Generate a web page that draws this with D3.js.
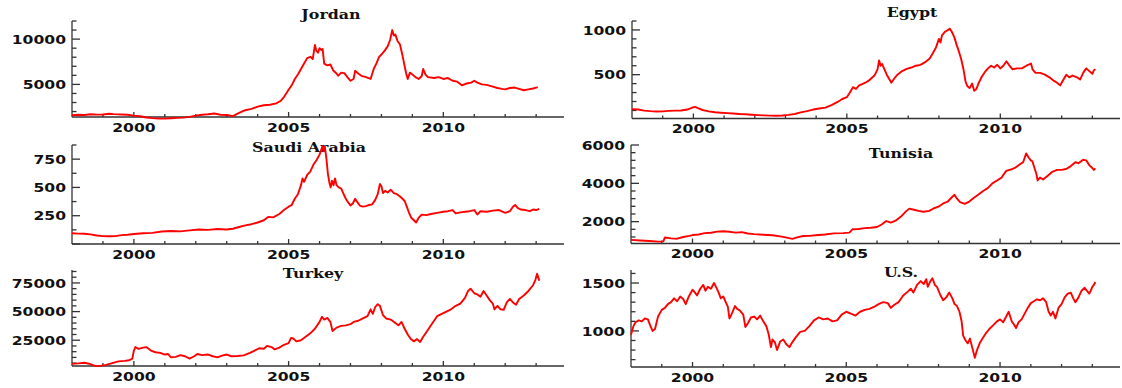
<!DOCTYPE html>
<html lang="en">
<head>
<meta charset="utf-8">
<title>Stock indices</title>
<style>
  * { margin: 0; padding: 0; }
  body { background: #fff; }
  svg { display: block; }
  .tick-label { font-family: "DejaVu Sans", sans-serif; font-weight: bold; font-size: 13px; fill: #111; }
  .title { font-family: "DejaVu Serif", serif; font-weight: bold; font-size: 12px; fill: #111; }
  .axis-line { stroke: #333; stroke-width: 1.3; fill: none; }
  .series { stroke: #ff0000; stroke-width: 1.9; fill: none; stroke-linejoin: round; }
</style>
</head>
<body>
<svg id="chart" width="1122" height="388"></svg>
<script src="https://d3js.org/d3.v7.min.js"></script>
<script>
// values: [year, index level]
const jordan = [
  [1998.0,1600],[1998.2,1650],[1998.4,1620],[1998.6,1700],[1998.8,1660],[1999.0,1680],[1999.2,1760],[1999.35,1720],
  [1999.6,1680],[1999.8,1650],[2000.0,1550],[2000.2,1480],[2000.4,1350],[2000.6,1280],[2000.8,1230],[2001.0,1220],
  [2001.2,1260],[2001.4,1300],[2001.6,1330],[2001.8,1420],[2002.0,1550],[2002.2,1650],[2002.4,1700],[2002.6,1780],
  [2002.8,1650],[2003.0,1620],[2003.2,1500],[2003.4,1850],[2003.6,2150],[2003.8,2300],[2004.0,2550],[2004.2,2700],
  [2004.4,2750],[2004.6,2900],[2004.75,3200],[2004.85,3600],[2005.0,4400],[2005.1,4900],[2005.2,5600],[2005.3,6100],
  [2005.4,6700],[2005.5,7300],[2005.6,7900],[2005.7,8050],[2005.78,7800],[2005.85,9350],[2005.9,8700],[2005.95,8500],
  [2006.0,9000],[2006.05,8800],[2006.1,8900],[2006.15,7300],[2006.25,7100],[2006.35,7200],[2006.45,6500],[2006.55,6200],
  [2006.6,5950],[2006.7,6300],[2006.8,6250],[2006.9,5800],[2007.0,5400],[2007.1,5600],[2007.15,6500],[2007.25,6200],
  [2007.35,5950],[2007.5,5800],[2007.65,5600],[2007.75,6700],[2007.85,7400],[2007.92,8000],[2008.0,8300],[2008.1,8700],
  [2008.2,9200],[2008.28,9900],[2008.35,11000],[2008.4,10400],[2008.45,10500],[2008.52,9800],[2008.6,9400],[2008.68,8200],
  [2008.75,7000],[2008.8,6200],[2008.85,5600],[2008.92,6300],[2009.0,6100],[2009.1,5800],[2009.2,5600],[2009.3,5900],
  [2009.35,6700],[2009.42,6100],[2009.5,5800],[2009.7,5700],[2009.85,5800],[2010.0,5600],[2010.15,5700],[2010.3,5400],
  [2010.45,5300],[2010.6,4900],[2010.75,5100],[2010.9,5200],[2011.0,5400],[2011.1,5200],[2011.25,5000],[2011.4,4950],
  [2011.6,4750],[2011.75,4600],[2011.9,4500],[2012.0,4450],[2012.15,4600],[2012.3,4650],[2012.45,4500],[2012.6,4350],
  [2012.75,4450],[2012.9,4550],[2013.0,4650],[2013.05,4700]
];

const egypt = [
  [1998.0,115],[1998.2,110],[1998.4,98],[1998.6,92],[1998.8,88],[1999.0,90],[1999.2,95],[1999.4,98],[1999.6,100],
  [1999.8,110],[1999.95,130],[2000.05,140],[2000.15,125],[2000.3,105],[2000.5,90],[2000.7,80],[2000.9,75],[2001.1,70],
  [2001.3,66],[2001.5,60],[2001.7,57],[2001.9,52],[2002.1,48],[2002.3,45],[2002.5,42],[2002.7,40],[2002.9,43],
  [2003.1,50],[2003.3,60],[2003.5,78],[2003.7,92],[2003.9,110],[2004.1,122],[2004.3,132],[2004.5,160],[2004.7,195],
  [2004.85,228],[2005.0,248],[2005.1,300],[2005.2,360],[2005.3,340],[2005.4,380],[2005.5,395],[2005.6,410],[2005.7,430],
  [2005.8,460],[2005.9,490],[2006.0,560],[2006.05,660],[2006.1,600],[2006.15,620],[2006.2,580],[2006.3,500],[2006.4,440],
  [2006.45,410],[2006.55,460],[2006.65,500],[2006.8,540],[2006.95,565],[2007.1,580],[2007.25,600],[2007.4,610],
  [2007.55,640],[2007.7,680],[2007.8,740],[2007.9,800],[2008.0,900],[2008.05,860],[2008.1,940],[2008.2,980],
  [2008.3,1000],[2008.35,1015],[2008.42,980],[2008.5,920],[2008.58,830],[2008.65,760],[2008.72,680],[2008.8,560],
  [2008.87,420],[2008.93,370],[2009.0,350],[2009.08,400],[2009.15,320],[2009.22,340],[2009.3,410],[2009.4,480],
  [2009.5,530],[2009.6,570],[2009.7,600],[2009.8,580],[2009.9,610],[2010.0,570],[2010.1,600],[2010.2,650],
  [2010.3,600],[2010.4,560],[2010.55,570],[2010.7,570],[2010.85,600],[2011.0,625],[2011.05,560],[2011.15,520],
  [2011.3,520],[2011.45,500],[2011.6,470],[2011.75,430],[2011.85,410],[2011.95,380],[2012.05,440],[2012.15,500],
  [2012.25,470],[2012.35,490],[2012.5,470],[2012.6,445],[2012.7,520],[2012.8,570],[2012.9,540],[2013.0,510],
  [2013.05,550],[2013.1,560]
];

const saudi = [
  [1998.0,95],[1998.2,92],[1998.4,90],[1998.6,85],[1998.8,75],[1999.0,70],[1999.2,68],[1999.4,70],[1999.6,78],
  [1999.8,82],[2000.0,88],[2000.3,95],[2000.6,98],[2000.9,110],[2001.2,115],[2001.5,112],[2001.8,120],[2002.1,128],
  [2002.4,125],[2002.7,132],[2003.0,128],[2003.2,135],[2003.4,150],[2003.6,165],[2003.8,175],[2004.0,190],
  [2004.2,210],[2004.35,240],[2004.5,235],[2004.7,265],[2004.85,300],[2005.0,330],[2005.1,345],[2005.2,400],
  [2005.3,440],[2005.4,520],[2005.45,580],[2005.5,550],[2005.6,610],[2005.7,640],[2005.8,700],[2005.9,740],
  [2006.0,790],[2006.05,830],[2006.1,865],[2006.13,820],[2006.17,860],[2006.22,760],[2006.27,620],[2006.32,540],
  [2006.36,500],[2006.4,560],[2006.45,520],[2006.5,580],[2006.55,520],[2006.62,500],[2006.7,490],[2006.78,440],
  [2006.85,400],[2006.92,370],[2007.0,340],[2007.08,360],[2007.15,400],[2007.22,370],[2007.3,340],[2007.4,330],
  [2007.5,335],[2007.6,345],[2007.7,350],[2007.8,390],[2007.88,440],[2007.95,530],[2008.0,510],[2008.05,450],
  [2008.12,470],[2008.2,455],[2008.3,480],[2008.4,450],[2008.5,440],[2008.6,420],[2008.68,400],[2008.75,380],
  [2008.82,330],[2008.9,270],[2008.97,230],[2009.05,210],[2009.12,190],[2009.2,230],[2009.3,260],[2009.45,255],
  [2009.6,265],[2009.8,275],[2010.0,285],[2010.15,290],[2010.3,300],[2010.4,270],[2010.55,280],[2010.7,285],
  [2010.85,290],[2011.0,300],[2011.1,260],[2011.2,290],[2011.4,285],[2011.6,295],[2011.8,300],[2012.0,275],
  [2012.15,290],[2012.25,330],[2012.32,345],[2012.4,320],[2012.5,305],[2012.65,300],[2012.8,290],[2012.9,305],
  [2013.0,300],[2013.1,310]
];

const tunisia = [
  [1998.0,1050],[1998.3,1020],[1998.6,990],[1998.9,960],[1999.05,970],[1999.1,1170],[1999.3,1130],[1999.5,1110],
  [1999.7,1200],[1999.9,1260],[2000.0,1300],[2000.2,1330],[2000.4,1400],[2000.6,1420],[2000.8,1480],[2001.0,1500],
  [2001.2,1470],[2001.4,1430],[2001.6,1450],[2001.8,1380],[2002.0,1350],[2002.3,1320],[2002.6,1290],[2002.9,1220],
  [2003.1,1150],[2003.25,1100],[2003.4,1180],[2003.6,1250],[2003.8,1260],[2004.0,1290],[2004.3,1330],[2004.6,1390],
  [2004.9,1400],[2005.1,1430],[2005.2,1600],[2005.4,1620],[2005.6,1660],[2005.8,1680],[2006.0,1720],[2006.15,1850],
  [2006.3,2030],[2006.45,1950],[2006.6,2050],[2006.8,2300],[2006.95,2550],[2007.05,2680],[2007.2,2620],[2007.35,2560],
  [2007.5,2520],[2007.7,2560],[2007.85,2700],[2008.0,2780],[2008.15,2950],[2008.3,3050],[2008.45,3300],[2008.52,3400],
  [2008.6,3200],[2008.7,3020],[2008.85,2930],[2009.0,3050],[2009.15,3250],[2009.3,3420],[2009.45,3600],[2009.6,3750],
  [2009.75,4000],[2009.9,4150],[2010.05,4300],[2010.2,4650],[2010.35,4720],[2010.5,4820],[2010.65,5000],[2010.75,5100],
  [2010.85,5560],[2010.93,5350],[2011.0,5200],[2011.05,5150],[2011.12,4800],[2011.18,4500],[2011.22,4150],[2011.3,4300],
  [2011.4,4200],[2011.55,4400],[2011.7,4600],[2011.85,4700],[2012.0,4700],[2012.15,4750],[2012.3,4900],[2012.45,5100],
  [2012.55,5050],[2012.7,5230],[2012.8,5200],[2012.9,4950],[2013.0,4800],[2013.05,4700],[2013.1,4780]
];

const turkey = [
  [1998.0,4400],[1998.2,4800],[1998.4,5300],[1998.55,4500],[1998.7,3000],[1998.8,2400],[1998.95,2800],[1999.1,3500],
  [1999.3,5000],[1999.5,6500],[1999.7,7000],[1999.85,7500],[1999.95,9000],[2000.0,16000],[2000.05,19000],[2000.15,17500],
  [2000.3,18500],[2000.4,19000],[2000.55,16000],[2000.7,14500],[2000.85,14000],[2001.0,12500],[2001.1,13000],[2001.2,10000],
  [2001.35,10500],[2001.5,12000],[2001.65,11000],[2001.8,9000],[2001.95,11000],[2002.05,13000],[2002.2,12000],[2002.4,12500],
  [2002.55,11000],[2002.7,10000],[2002.85,11500],[2003.0,12500],[2003.15,11000],[2003.35,11200],[2003.55,11800],[2003.75,14000],
  [2003.9,16000],[2004.05,18000],[2004.2,17500],[2004.3,20000],[2004.45,19000],[2004.55,17000],[2004.7,18500],[2004.85,21000],
  [2005.0,22500],[2005.08,27000],[2005.15,26500],[2005.25,24000],[2005.4,25000],[2005.55,28000],[2005.7,31000],[2005.85,35000],
  [2006.0,41000],[2006.08,45500],[2006.15,43000],[2006.25,44500],[2006.35,41000],[2006.42,33000],[2006.55,36000],[2006.7,37500],
  [2006.85,38000],[2007.0,39000],[2007.1,41000],[2007.25,42000],[2007.4,44000],[2007.55,46000],[2007.65,52000],[2007.72,48000],
  [2007.8,54000],[2007.88,56500],[2007.95,55000],[2008.05,47000],[2008.15,44000],[2008.3,43000],[2008.45,40000],[2008.55,38000],
  [2008.65,41000],[2008.75,35000],[2008.85,30000],[2008.95,26000],[2009.05,24000],[2009.15,26000],[2009.25,23500],[2009.35,28000],
  [2009.5,34000],[2009.65,40000],[2009.8,46000],[2009.95,48000],[2010.1,50000],[2010.25,52000],[2010.4,55000],[2010.55,57000],
  [2010.7,62000],[2010.8,68000],[2010.88,70000],[2011.0,66000],[2011.1,65000],[2011.2,63000],[2011.3,68000],[2011.4,64000],
  [2011.5,60000],[2011.6,57000],[2011.65,52000],[2011.75,55000],[2011.85,52000],[2011.95,51500],[2012.05,58000],[2012.15,61000],
  [2012.25,58000],[2012.35,56000],[2012.45,61000],[2012.6,64000],[2012.75,68000],[2012.9,73000],[2012.98,78000],[2013.03,83000],
  [2013.08,79000],[2013.1,77000]
];

const us = [
  [1998.0,960],[1998.08,1050],[1998.15,1090],[1998.25,1110],[1998.35,1100],[1998.45,1130],[1998.55,1120],[1998.62,1060],
  [1998.7,1000],[1998.78,1020],[1998.88,1150],[1999.0,1220],[1999.1,1240],[1999.2,1280],[1999.3,1300],[1999.4,1340],
  [1999.5,1310],[1999.6,1360],[1999.7,1330],[1999.78,1280],[1999.88,1360],[2000.0,1430],[2000.08,1400],[2000.15,1370],
  [2000.25,1440],[2000.35,1480],[2000.42,1420],[2000.5,1460],[2000.6,1440],[2000.7,1500],[2000.78,1450],[2000.85,1400],
  [2000.92,1340],[2001.0,1360],[2001.08,1300],[2001.15,1250],[2001.2,1130],[2001.28,1180],[2001.38,1260],[2001.45,1230],
  [2001.55,1210],[2001.65,1170],[2001.72,1040],[2001.8,1080],[2001.9,1140],[2002.0,1150],[2002.1,1120],[2002.2,1160],
  [2002.3,1100],[2002.4,1050],[2002.48,960],[2002.55,830],[2002.6,910],[2002.68,880],[2002.75,800],[2002.85,890],
  [2002.95,910],[2003.05,860],[2003.15,830],[2003.22,870],[2003.35,930],[2003.5,990],[2003.65,1000],[2003.8,1050],
  [2003.95,1110],[2004.1,1140],[2004.25,1120],[2004.4,1130],[2004.55,1100],[2004.7,1110],[2004.85,1170],[2005.0,1200],
  [2005.15,1180],[2005.3,1160],[2005.45,1200],[2005.6,1220],[2005.75,1230],[2005.9,1250],[2006.05,1280],[2006.2,1300],
  [2006.35,1290],[2006.45,1240],[2006.55,1270],[2006.7,1300],[2006.85,1370],[2007.0,1410],[2007.1,1440],[2007.18,1400],
  [2007.3,1480],[2007.42,1520],[2007.52,1490],[2007.6,1540],[2007.65,1460],[2007.72,1510],[2007.8,1550],[2007.88,1480],
  [2007.95,1460],[2008.05,1380],[2008.15,1320],[2008.25,1350],[2008.35,1400],[2008.45,1340],[2008.52,1280],[2008.6,1260],
  [2008.68,1200],[2008.75,1100],[2008.8,950],[2008.88,900],[2008.95,870],[2009.02,920],[2009.1,820],[2009.18,720],
  [2009.25,800],[2009.35,880],[2009.45,930],[2009.55,980],[2009.65,1020],[2009.78,1060],[2009.9,1100],[2010.0,1120],
  [2010.1,1090],[2010.2,1150],[2010.28,1200],[2010.38,1100],[2010.45,1070],[2010.52,1030],[2010.6,1090],[2010.7,1120],
  [2010.8,1180],[2010.9,1240],[2011.0,1290],[2011.1,1310],[2011.2,1330],[2011.3,1320],[2011.4,1340],[2011.5,1300],
  [2011.58,1200],[2011.65,1160],[2011.72,1200],[2011.8,1130],[2011.9,1240],[2012.0,1280],[2012.1,1350],[2012.2,1390],
  [2012.3,1400],[2012.38,1340],[2012.45,1300],[2012.55,1350],[2012.65,1420],[2012.75,1450],[2012.82,1420],[2012.9,1390],
  [2012.95,1420],[2013.0,1460],[2013.05,1480],[2013.1,1510]
];

const yearDomain = [1998.0, 2013.9];
const yearTicks = d3.range(1999, 2014);
const yearLabels = [2000, 2005, 2010];

// panel layout: plot box + y axis range and tick steps
const panels = [
  { title: "Jordan", data: jordan, x0: 72, x1: 564, top: 21, bottom: 117, y: [1400, 12000], major: 5000, minor: 1000, tx: 331, ty: 18.5 },
  { title: "Egypt", data: egypt, x0: 632, x1: 1120, top: 21, bottom: 118.5, y: [10, 1100], major: 500, minor: 100, tx: 912, ty: 17 },
  { title: "Saudi Arabia", data: saudi, x0: 72, x1: 564, top: 145, bottom: 244, y: [0, 875], major: 250, minor: 125, tx: 309, ty: 152 },
  { title: "Tunisia", data: tunisia, x0: 631, x1: 1120, top: 145, bottom: 243.5, y: [860, 6000], major: 2000, minor: 400, tx: 901, ty: 157.5 },
  { title: "Turkey", data: turkey, x0: 72, x1: 564, top: 270, bottom: 366, y: [2500, 86300], major: 25000, minor: 5000, tx: 313, ty: 278 },
  { title: "U.S.", data: us, x0: 631, x1: 1120, top: 270, bottom: 367, y: [623, 1636], major: 500, minor: 100, tx: 901, ty: 276.5 }
];

const svg = d3.select("#chart");
svg.append("rect").attr("width", 1122).attr("height", 388).attr("fill", "#fff");

// text in the figure is drawn wide, so stretch it horizontally
function label(g, x, y, txt, anchor, cls, sx) {
  return g.append("text")
    .attr("class", cls)
    .attr("text-anchor", anchor)
    .attr("transform", `translate(${x},${y}) scale(${sx},1)`)
    .text(txt);
}

panels.forEach(p => {
  const g = svg.append("g");
  const x = d3.scaleLinear().domain(yearDomain).range([p.x0, p.x1]);
  const y = d3.scaleLinear().domain(p.y).range([p.bottom, p.top]);

  // title first, the series runs over it (Saudi Arabia)
  label(g, p.tx, p.ty, p.title, "middle", "title", 1.32);

  // axes
  g.append("line").attr("class", "axis-line")
    .attr("x1", p.x0).attr("x2", p.x0).attr("y1", p.bottom).attr("y2", p.top);
  g.append("line").attr("class", "axis-line")
    .attr("x1", p.x0).attr("x2", p.x1).attr("y1", p.bottom).attr("y2", p.bottom);

  // y ticks
  const minors = d3.range(Math.ceil(p.y[0] / p.minor) * p.minor, p.y[1] + 1e-6, p.minor);
  minors.forEach(v => {
    const isMajor = Math.abs(v / p.major - Math.round(v / p.major)) < 1e-6;
    const yy = y(v);
    g.append("line").attr("class", "axis-line")
      .attr("x1", p.x0).attr("x2", p.x0 + (isMajor ? 8 : 4.5))
      .attr("y1", yy).attr("y2", yy);
    if (isMajor && v > 0) label(g, p.x0 - 6, yy + 4.6, v, "end", "tick-label", 1.2);
  });

  // x ticks
  yearTicks.forEach(yr => {
    const xx = x(yr);
    const isMajor = yearLabels.includes(yr);
    g.append("line").attr("class", "axis-line")
      .attr("x1", xx).attr("x2", xx)
      .attr("y1", p.bottom).attr("y2", p.bottom - (isMajor ? 5 : 3));
    if (isMajor) label(g, xx, p.bottom + 14.5, yr, "middle", "tick-label", 1.2);
  });

  const line = d3.line().x(d => x(d[0])).y(d => y(d[1]));
  g.append("path").datum(p.data).attr("class", "series").attr("d", line);
});
</script>
</body>
</html>
